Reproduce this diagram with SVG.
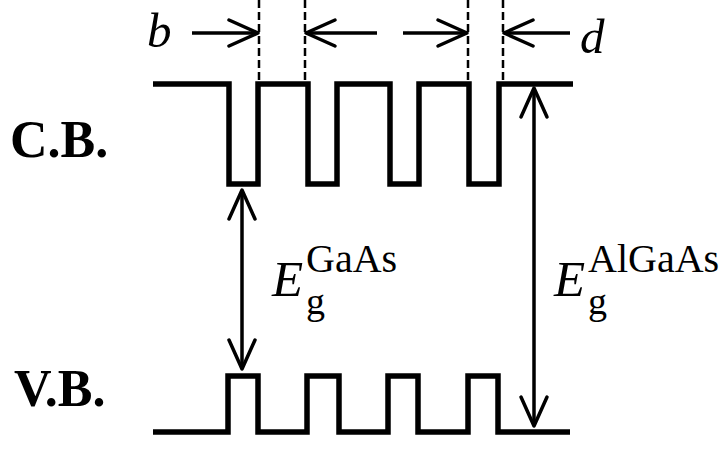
<svg xmlns="http://www.w3.org/2000/svg" width="724" height="452" viewBox="0 0 724 452">
  <style>
    .band { fill: none; stroke: #000; stroke-width: 5.5; stroke-linejoin: miter; }
    .arr { fill: none; stroke: #000; stroke-width: 3.5; }
    .dash { fill: none; stroke: #000; stroke-width: 2.5; stroke-dasharray: 8 4; }
    .lbl { font-family: "Liberation Serif", "Times New Roman", serif; fill: #000; }
    .bold { font-weight: bold; font-size: 52px; }
    .it { font-style: italic; }
  </style>
  <defs>
    <marker id="ah" viewBox="-32 -16 34 32" refX="0" refY="0" markerWidth="34" markerHeight="32" markerUnits="userSpaceOnUse" orient="auto-start-reverse" overflow="visible">
      <path d="M-29,-13 L0,0 L-29,13" fill="none" stroke="#000" stroke-width="3.5" stroke-linecap="round" stroke-linejoin="round"/>
    </marker>
  </defs>
  <rect width="724" height="452" fill="#fff"/>

  <g id="conduction-band">
    <path class="band" d="M153,84 H229 V184 H258 V84 H308 V184 H337 V84 H390 V184 H419 V84 H469 V184 H499 V84 H573"/>
    <text class="lbl bold" x="10" y="157">C.B.</text>
  </g>

  <g id="valence-band">
    <path class="band" d="M153,432 H228 V376 H258 V432 H307 V376 H339 V432 H388 V376 H418 V432 H468 V376 H498 V432 H570"/>
    <text class="lbl bold" x="14" y="406">V.B.</text>
  </g>

  <g id="dimension-lines">
    <line class="dash" x1="259" y1="0" x2="259" y2="84"/>
    <line class="dash" x1="305" y1="0" x2="305" y2="84"/>
    <line class="dash" x1="468" y1="0" x2="468" y2="84"/>
    <line class="dash" x1="503" y1="0" x2="503" y2="84"/>
  </g>

  <g id="connectors">
    <line class="arr" x1="192" y1="33" x2="258" y2="33" marker-end="url(#ah)"/>
    <line class="arr" x1="377" y1="33" x2="306" y2="33" marker-end="url(#ah)"/>
    <line class="arr" x1="403" y1="33" x2="467" y2="33" marker-end="url(#ah)"/>
    <line class="arr" x1="570" y1="33" x2="504" y2="33" marker-end="url(#ah)"/>
    <line class="arr" x1="242" y1="190" x2="242" y2="369" marker-start="url(#ah)" marker-end="url(#ah)"/>
    <line class="arr" x1="534" y1="88" x2="534" y2="426" marker-start="url(#ah)" marker-end="url(#ah)"/>
  </g>

  <g id="label-b">
    <text class="lbl it" x="147" y="47" font-size="49">b</text>
  </g>
  <g id="label-d">
    <text class="lbl it" x="580" y="53" font-size="49">d</text>
  </g>

  <g id="label-eg-gaas">
    <text class="lbl it" x="272" y="296" font-size="51">E</text>
    <text class="lbl" x="306" y="272" font-size="40">GaAs</text>
    <text class="lbl" x="306" y="314" font-size="38">g</text>
  </g>
  <g id="label-eg-algaas">
    <text class="lbl it" x="554" y="296" font-size="51">E</text>
    <text class="lbl" x="588" y="272" font-size="40">AlGaAs</text>
    <text class="lbl" x="588" y="314" font-size="38">g</text>
  </g>
</svg>
